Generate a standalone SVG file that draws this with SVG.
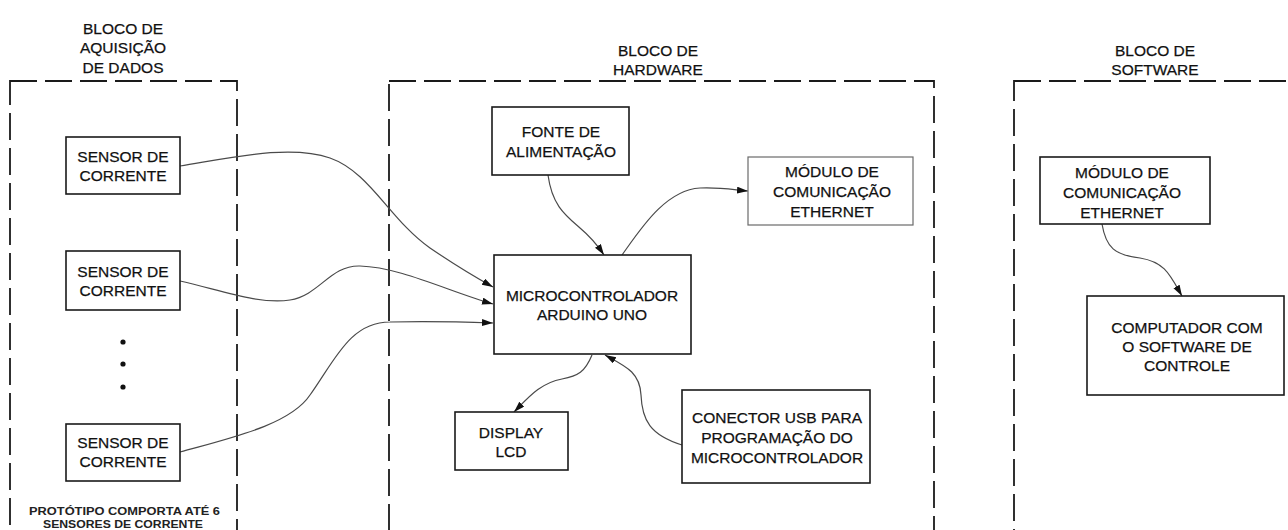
<svg xmlns="http://www.w3.org/2000/svg" width="1288" height="530" viewBox="0 0 1288 530">
  <style>
    .block { fill: none; stroke: #1a1a1a; stroke-width: 1.8; stroke-dasharray: 27 8; }
    .box { fill: #fff; stroke: #1a1a1a; stroke-width: 1.6; }
    .box-light { fill: #fff; stroke: #6a6a6a; stroke-width: 1.2; }
    .label { font-family: "Liberation Sans", Arial, sans-serif; font-size: 15.5px; fill: #111; stroke: #111; stroke-width: 0.25; text-anchor: middle; }
    .note { font-family: "Liberation Sans", Arial, sans-serif; font-size: 11.5px; font-weight: bold; fill: #222; text-anchor: middle; }
    .wire { fill: none; stroke: #4a4a4a; stroke-width: 1.2; marker-end: url(#arrow); }
  </style>
  <defs>
    <marker id="arrow" markerUnits="userSpaceOnUse" markerWidth="12" markerHeight="8" refX="11" refY="3.5" orient="auto">
      <path d="M0,0 L11,3.5 L0,7 z" fill="#111"/>
    </marker>
  </defs>

  <rect width="1288" height="530" fill="#fff"/>

  <!-- Dashed grouping blocks -->
  <g id="block-aquisicao">
    <rect class="block" x="10" y="81" width="227" height="520"/>
    <text class="label" x="123" y="33.5">BLOCO DE</text>
    <text class="label" x="123" y="53">AQUISIÇÃO</text>
    <text class="label" x="123" y="72.5">DE DADOS</text>
    <text class="note" x="124.5" y="515" textLength="191" lengthAdjust="spacingAndGlyphs">PROTÓTIPO COMPORTA ATÉ 6</text>
    <text class="note" x="123" y="528" textLength="160" lengthAdjust="spacingAndGlyphs">SENSORES DE CORRENTE</text>
  </g>
  <g id="block-hardware">
    <rect class="block" x="389" y="81" width="545" height="520"/>
    <text class="label" x="658" y="55.5">BLOCO DE</text>
    <text class="label" x="658" y="74.5">HARDWARE</text>
  </g>
  <g id="block-software">
    <rect class="block" x="1014" y="81" width="400" height="520"/>
    <text class="label" x="1155" y="55.5">BLOCO DE</text>
    <text class="label" x="1155" y="74.5">SOFTWARE</text>
  </g>

  <!-- Connectors -->
  <g id="connectors">
    <path class="wire" d="M180,166 C230,158 290,144 330,158 C370,172 390,220 430,248 C455,265 475,277 493,287"/>
    <path class="wire" d="M180,281 C220,290 260,305 290,300 C320,295 330,265 360,266 C400,267 450,292 493,304"/>
    <path class="wire" d="M180,452 C230,438 290,425 310,395 C335,360 350,322 390,322 C430,321 465,322 493,323"/>
    <path class="wire" d="M548,175 C552,205 565,215 580,228 C592,238 598,246 604,255"/>
    <path class="wire" d="M622,255 C640,230 665,190 700,188 C720,187 735,190 748,191"/>
    <path class="wire" d="M592,355 C585,372 578,376 562,379 C540,383 528,398 514,412"/>
    <path class="wire" d="M682,445 C650,435 642,420 641,395 C640,372 625,366 605,355"/>
    <path class="wire" d="M1102,224 C1106,248 1115,255 1140,258 C1165,262 1170,275 1182,296"/>
  </g>

  <!-- Sensors -->
  <g id="sensor-1">
    <rect class="box" x="66" y="137" width="114" height="57"/>
    <text class="label" x="123" y="162">SENSOR DE</text>
    <text class="label" x="123" y="181">CORRENTE</text>
  </g>
  <g id="sensor-2">
    <rect class="box" x="66" y="251" width="114" height="59"/>
    <text class="label" x="123" y="276.5">SENSOR DE</text>
    <text class="label" x="123" y="295.5">CORRENTE</text>
  </g>
  <g id="ellipsis">
    <circle cx="123" cy="342" r="2.6" fill="#111"/>
    <circle cx="123" cy="364" r="2.6" fill="#111"/>
    <circle cx="123" cy="387" r="2.6" fill="#111"/>
  </g>
  <g id="sensor-3">
    <rect class="box" x="66" y="424" width="114" height="57"/>
    <text class="label" x="123" y="448">SENSOR DE</text>
    <text class="label" x="123" y="467">CORRENTE</text>
  </g>

  <!-- Hardware block -->
  <g id="fonte">
    <rect class="box" x="492" y="107" width="137" height="68"/>
    <text class="label" x="561" y="136.5">FONTE DE</text>
    <text class="label" x="561" y="156.5">ALIMENTAÇÃO</text>
  </g>
  <g id="ethernet-hw">
    <rect class="box-light" x="748" y="157" width="165" height="68"/>
    <text class="label" x="832" y="176.5">MÓDULO DE</text>
    <text class="label" x="832" y="196.5">COMUNICAÇÃO</text>
    <text class="label" x="832" y="216.5">ETHERNET</text>
  </g>
  <g id="microcontrolador">
    <rect class="box" x="494" y="255" width="197" height="99"/>
    <text class="label" x="592" y="300.5">MICROCONTROLADOR</text>
    <text class="label" x="592" y="319.5">ARDUINO UNO</text>
  </g>
  <g id="display">
    <rect class="box" x="455" y="412" width="113" height="58"/>
    <text class="label" x="511" y="437.5">DISPLAY</text>
    <text class="label" x="511" y="456.5">LCD</text>
  </g>
  <g id="usb">
    <rect class="box" x="682" y="390" width="188" height="93"/>
    <text class="label" x="777" y="422.5">CONECTOR USB PARA</text>
    <text class="label" x="777" y="442.5">PROGRAMAÇÃO DO</text>
    <text class="label" x="777" y="462.5">MICROCONTROLADOR</text>
  </g>

  <!-- Software block -->
  <g id="ethernet-sw">
    <rect class="box" x="1040" y="157" width="170" height="67"/>
    <text class="label" x="1122" y="178">MÓDULO DE</text>
    <text class="label" x="1122" y="198">COMUNICAÇÃO</text>
    <text class="label" x="1122" y="218">ETHERNET</text>
  </g>
  <g id="computador">
    <rect class="box" x="1087" y="296" width="197" height="99"/>
    <text class="label" x="1187" y="332.5">COMPUTADOR COM</text>
    <text class="label" x="1187" y="351.5">O SOFTWARE DE</text>
    <text class="label" x="1187" y="370.5">CONTROLE</text>
  </g>
</svg>
